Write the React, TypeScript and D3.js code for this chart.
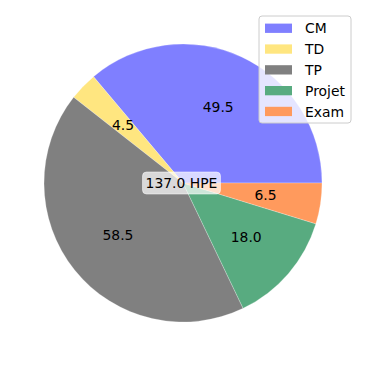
import React, { useEffect, useRef } from 'react';
import * as d3 from 'd3';

const categories = ['CM', 'TD', 'TP', 'Projet', 'Exam'];
const hours = [49.5, 4.5, 58.5, 18.0, 6.5];
const colors = ['#7f7fff', '#ffe680', '#808080', '#58ab80', '#ff9a5d'];
const totalLabel = '137.0 HPE';

const App: React.FC = () => {
  const ref = useRef<SVGSVGElement | null>(null);

  useEffect(() => {
    if (!ref.current) return;
    const svg = d3.select(ref.current);
    svg.selectAll('*').remove();

    const cx = 183;
    const cy = 183;
    const r = 139;
    const font = 'DejaVu Sans, sans-serif';
    const fs = 13.9;

    const data = categories.map((c, i) => ({ label: c, value: hours[i], color: colors[i] }));

    // matplotlib style: start at 3 o'clock, counterclockwise
    const pie = d3
      .pie<{ label: string; value: number; color: string }>()
      .sort(null)
      .value((d) => d.value)
      .startAngle(Math.PI / 2)
      .endAngle(Math.PI / 2 - 2 * Math.PI);

    const arcs = pie(data);
    const arc = d3.arc<d3.PieArcDatum<any>>().innerRadius(0).outerRadius(r);
    const labelArc = d3.arc<d3.PieArcDatum<any>>().innerRadius(r * 1.2).outerRadius(0);

    const g = svg.append('g').attr('transform', `translate(${cx},${cy})`);

    g.selectAll('path')
      .data(arcs)
      .enter()
      .append('path')
      .attr('d', arc as any)
      .attr('fill', (d) => d.data.color)
      .attr('stroke', '#ffffff')
      .attr('stroke-width', 0.4)
      .attr('stroke-opacity', 0.6);

    g.selectAll('text.pct')
      .data(arcs)
      .enter()
      .append('text')
      .attr('class', 'pct')
      .attr('transform', (d) => `translate(${labelArc.centroid(d as any)})`)
      .attr('text-anchor', 'middle')
      .attr('dominant-baseline', 'central')
      .attr('font-family', font)
      .attr('font-size', fs)
      .attr('fill', '#000')
      .text((d) => d.data.value.toFixed(1));

    // total in the middle
    const tw = 78;
    const th = 22;
    g.append('rect')
      .attr('x', -tw / 2 - 1.5)
      .attr('y', -th / 2)
      .attr('width', tw)
      .attr('height', th)
      .attr('rx', 4)
      .attr('fill', '#ffffff')
      .attr('fill-opacity', 0.7)
      .attr('stroke', '#ffffff')
      .attr('stroke-opacity', 0.5);
    g.append('text')
      .attr('x', -1.5)
      .attr('y', 0)
      .attr('text-anchor', 'middle')
      .attr('dominant-baseline', 'central')
      .attr('font-family', font)
      .attr('font-size', fs)
      .attr('fill', '#000')
      .text(totalLabel);

    // legend
    const lg = svg.append('g').attr('transform', 'translate(259,16)');
    lg.append('rect')
      .attr('x', 0)
      .attr('y', 0)
      .attr('width', 92)
      .attr('height', 107)
      .attr('rx', 3)
      .attr('fill', '#ffffff')
      .attr('fill-opacity', 0.8)
      .attr('stroke', '#cccccc')
      .attr('stroke-width', 1);

    const row = lg
      .selectAll('g.item')
      .data(data)
      .enter()
      .append('g')
      .attr('class', 'item')
      .attr('transform', (_, i) => `translate(0,${12.3 + i * 20.8})`);
    row
      .append('rect')
      .attr('x', 6)
      .attr('y', -4.7)
      .attr('width', 27)
      .attr('height', 9.3)
      .attr('fill', (d) => d.color);
    row
      .append('text')
      .attr('x', 46)
      .attr('y', 0)
      .attr('dominant-baseline', 'central')
      .attr('font-family', font)
      .attr('font-size', fs)
      .attr('fill', '#000')
      .text((d) => d.label);
  }, []);

  return (
    <svg
      ref={ref}
      width={366}
      height={366}
      style={{ position: 'absolute', left: 0, top: 0, background: '#fff' }}
    ></svg>
  );
};

export default App;
